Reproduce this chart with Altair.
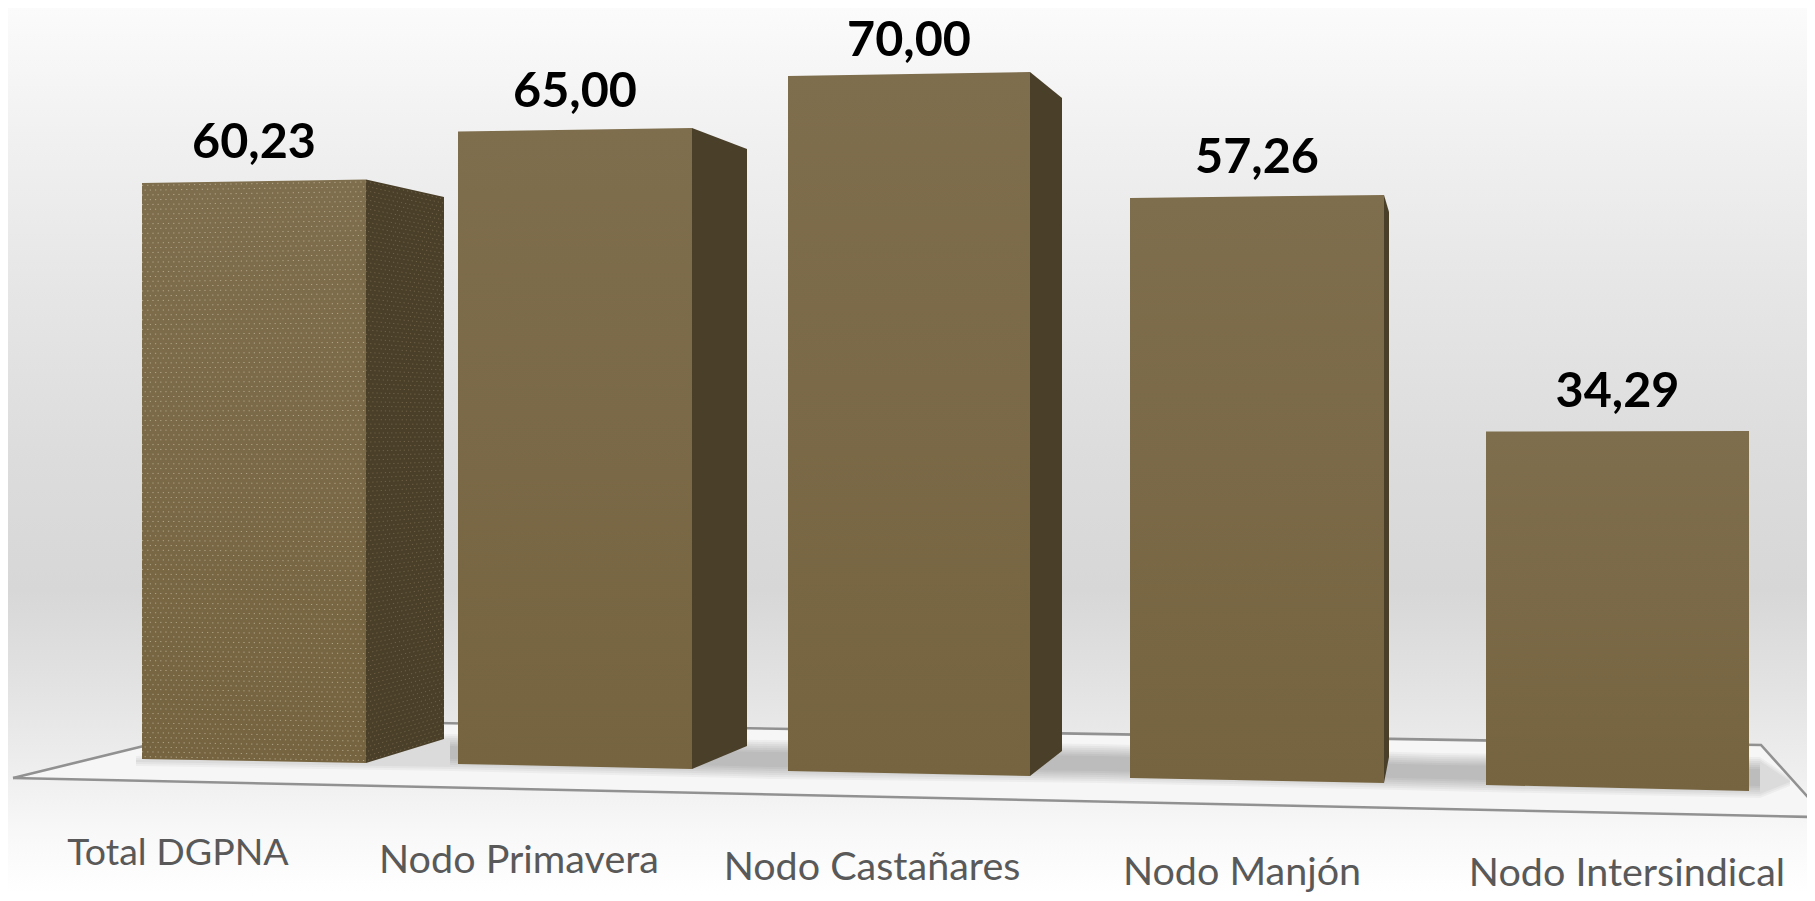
import altair as alt
import pandas as pd

# ---------- chart values ----------
categories = ["Total DGPNA", "Nodo Primavera", "Nodo Castañares", "Nodo Manjón", "Nodo Intersindical"]
values = [60.23, 65.00, 70.00, 57.26, 34.29]

# ---------- scene geometry (page pixels) ----------
W, H = 1799, 885
OX, OY = 8, 8
front_left = [142, 458, 788, 1130, 1486]
front_right = [366, 692, 1030, 1384, 1749]
back_right = [444, 747, 1062, 1389, 1749]
top_left = [183, 131.5, 76, 198, 431.5]
top_right = [179.5, 128, 72, 195, 431]
back_top = [197, 149, 98, 212, 431]
bottom_left = [759, 764, 771, 778, 785]
bottom_right = [763, 769, 776, 783, 791]
back_bottom = [739, 746, 751, 757, 791]
label_x = [178, 519, 872, 1242, 1627]
label_base = [865, 873, 880, 884.5, 885.5]
label_size = [37.5, 39.5, 39.5, 39.5, 39.5]
value_dy = [-25, -25, -20, -25, -25]

floor_x = [13, 250, 1761, 1815]
floor_top = [778, 720, 745, 805]
floor_bottom = [778, 783, 816, 817]
shadow_x = [136, 450, 770, 1100, 1440, 1760, 1790]
shadow_top = [756, 734, 740, 744, 753, 757, 777]
shadow_bottom = [766, 771, 779, 783, 791, 798, 786]

bg_y = [0, 144, 287, 460, 590, 690, 776, 833, 901]
bg_grey = ["#fbfbfb", "#f0f0f0", "#e6e6e6", "#dcdcdc", "#d7d7d7", "#e3e3e3", "#efefef", "#f8f8f8", "#ffffff"]

FONT = "Lato"
FRONT = [
    alt.GradientStop(offset=0, color="#7f6e4d"),
    alt.GradientStop(offset=1, color="#766440"),
]


def px(v):
    return v - OX


def py(v):
    return v - OY


xscale_id = alt.Scale(domain=[0, W], range=[0, W], nice=False, zero=False)
yscale_id = alt.Scale(domain=[0, H], range=[0, H], nice=False, zero=False)

layers = []

# background
bg = alt.Chart(pd.DataFrame({"a": [0]})).mark_rect(
    color=alt.Gradient(
        gradient="linear", x1=0, x2=0, y1=0, y2=1,
        stops=[
            alt.GradientStop(offset=min(1, max(0, py(y) / H)), color=c)
            for y, c in zip(bg_y, bg_grey)
        ],
    )
).encode(x=alt.value(0), x2=alt.value(W), y=alt.value(0), y2=alt.value(H))
layers.append(bg)

# floor
floor_df = pd.DataFrame({
    "x": [px(v) for v in floor_x],
    "t": [py(v) for v in floor_top],
    "b": [py(v) for v in floor_bottom],
})
layers.append(
    alt.Chart(floor_df).mark_area(color="#f6f6f6", interpolate="linear").encode(
        x=alt.X("x:Q", scale=xscale_id, axis=None),
        y=alt.Y("t:Q", scale=yscale_id, axis=None),
        y2="b:Q",
    )
)

# soft shadow, as nested translucent bands
shadow_df = pd.DataFrame({
    "x": [px(v) for v in shadow_x],
    "t": [py(v) for v in shadow_top],
    "b": [py(v) for v in shadow_bottom],
})
for inset in [0, 2, 4, 6, 8, 10, 12]:
    d = shadow_df.copy()
    d["t"] = d["t"] + inset
    d["b"] = d["b"] - inset
    d = d[d["b"] > d["t"]]
    layers.append(
        alt.Chart(d).mark_area(color="#000000", opacity=0.035, interpolate="linear").encode(
            x=alt.X("x:Q", scale=xscale_id, axis=None),
            y=alt.Y("t:Q", scale=yscale_id, axis=None),
            y2="b:Q",
        )
    )

# floor outline
outline_df = pd.DataFrame({
    "x": [px(v) for v in floor_x] + [px(floor_x[0]), px(floor_x[-1])],
    "y": [py(v) for v in floor_top] + [py(floor_bottom[0]), py(floor_bottom[-1])],
    "g": ["back"] * 4 + ["front"] * 2,
})
layers.append(
    alt.Chart(outline_df).mark_line(color="#919191", strokeWidth=2.6, clip=True).encode(
        x=alt.X("x:Q", scale=xscale_id, axis=None),
        y=alt.Y("y:Q", scale=yscale_id, axis=None),
        detail="g:N",
    )
)

# bars
for i, v in enumerate(values):
    k = (bottom_left[i] - top_left[i]) / v  # pixels per value unit
    to_val = lambda yy, i=i, k=k: (bottom_left[i] - yy) / k
    ys = alt.Scale(domain=[0, v], range=[py(bottom_left[i]), py(top_left[i])], nice=False, zero=False)
    xf = alt.Scale(domain=[0, 1], range=[px(front_left[i]), px(front_right[i])], nice=False, zero=False)
    xb = alt.Scale(domain=[0, 1], range=[px(front_right[i]), px(back_right[i])], nice=False, zero=False)

    front_df = pd.DataFrame({
        "edge": [0, 1],
        "top": [v, to_val(top_right[i])],
        "base": [0, to_val(bottom_right[i])],
    })
    side_df = pd.DataFrame({
        "edge": [0, 1],
        "top": [to_val(top_right[i]), to_val(back_top[i])],
        "base": [to_val(bottom_right[i]), to_val(back_bottom[i])],
    })

    if back_right[i] > front_right[i]:
        layers.append(
            alt.Chart(side_df).mark_area(color="#4a3f29").encode(
                x=alt.X("edge:Q", scale=xb, axis=None),
                y=alt.Y("top:Q", scale=ys, axis=None),
                y2="base:Q",
            )
        )
    layers.append(
        alt.Chart(front_df).mark_area(
            color=alt.Gradient(gradient="linear", x1=0, x2=0, y1=0, y2=1, stops=FRONT)
        ).encode(
            x=alt.X("edge:Q", scale=xf, axis=None),
            y=alt.Y("top:Q", scale=ys, axis=None),
            y2="base:Q",
        )
    )

    # the first bar carries a dotted texture
    if i == 0:
        for df_face, xs, col, op, nrows, dash in [
            (front_df, xf, "#d6ceb6", 0.6, 120, [1.2, 4.0]),
            (side_df, xb, "#8a7c5e", 0.6, 130, [1.2, 3.0]),
        ]:
            rows = []
            for r in range(nrows):
                f = (r + 0.5) / nrows
                rows.append({
                    "e0": 0, "e1": 1,
                    "y0": df_face.top[0] * (1 - f) + df_face.base[0] * f,
                    "y1": df_face.top[1] * (1 - f) + df_face.base[1] * f,
                    "odd": r % 2,
                })
            rd = pd.DataFrame(rows)
            for odd in (0, 1):
                layers.append(
                    alt.Chart(rd[rd.odd == odd]).mark_rule(
                        color=col, opacity=op, strokeWidth=1,
                        strokeDash=dash,
                        strokeDashOffset=(dash[0] + dash[1]) / 2 * odd,
                    ).encode(
                        x=alt.X("e0:Q", scale=xs, axis=None),
                        x2="e1:Q",
                        y=alt.Y("y0:Q", scale=ys, axis=None),
                        y2="y1:Q",
                    )
                )

    # value label
    label_df = pd.DataFrame({
        "edge": [0.5],
        "v": [v],
        "t": [f"{v:.2f}".replace(".", ",")],
    })
    layers.append(
        alt.Chart(label_df).mark_text(
            font=FONT, fontWeight="bold", fontSize=48.5, color="#000000",
            baseline="alphabetic", align="center", dy=value_dy[i],
        ).encode(
            x=alt.X("edge:Q", scale=xf, axis=None),
            y=alt.Y("v:Q", scale=ys, axis=None),
            text="t:N",
        )
    )

# category labels
cat_df = pd.DataFrame({"i": list(range(5)), "c": categories})
idx = [0, 1, 2, 3, 4]
layers.append(
    alt.Chart(cat_df).mark_text(
        font=FONT, color="#595959", baseline="alphabetic", align="center",
    ).encode(
        x=alt.X("i:Q", scale=alt.Scale(domain=idx, range=[px(v) for v in label_x], nice=False, zero=False), axis=None),
        y=alt.Y("i:Q", scale=alt.Scale(domain=idx, range=[py(v) for v in label_base], nice=False, zero=False), axis=None),
        size=alt.Size("i:Q", scale=alt.Scale(domain=idx, range=label_size, nice=False, zero=False), legend=None),
        text="c:N",
    )
)

chart = (
    alt.layer(*layers)
    .resolve_scale(x="independent", y="independent")
    .properties(width=W, height=H, padding=0, autosize=alt.AutoSizeParams(type="none"))
    .configure_view(stroke=None)
)

chart.save("out.html", embed_options={"renderer": "svg", "actions": False})
